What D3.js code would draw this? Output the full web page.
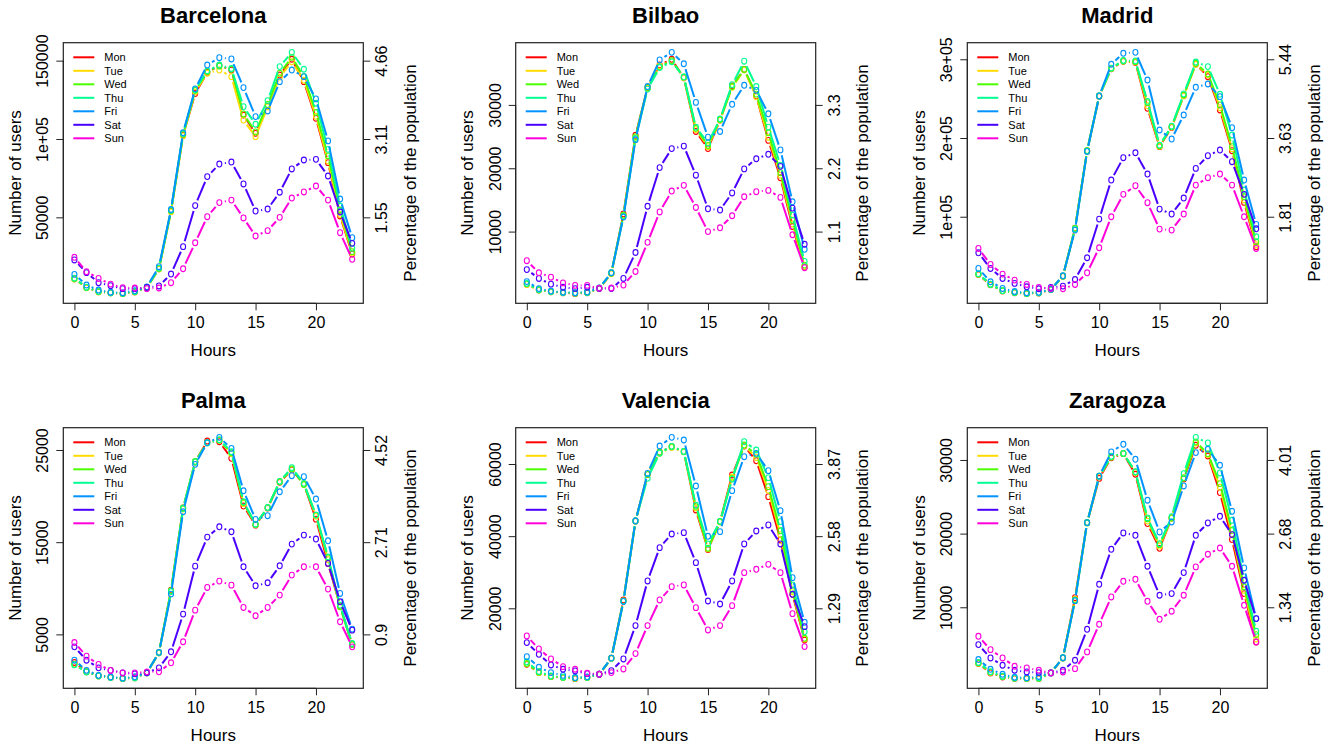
<!DOCTYPE html>
<html><head><meta charset="utf-8">
<script src="https://cdn.jsdelivr.net/npm/d3@7"></script>
<style>
html,body{margin:0;padding:0;background:#fff;}
text{font-family:"Liberation Sans",Arial,Helvetica,sans-serif;fill:#000;}
</style></head>
<body>
<svg id="chart" width="1336" height="747"></svg>
<script>
const days = ["Mon","Tue","Wed","Thu","Fri","Sat","Sun"];
const dayColors = ["#FF0000","#FFDB00","#49FF00","#00FF92","#0092FF","#4900FF","#FF00DB"];
const hours = [0,1,2,3,4,5,6,7,8,9,10,11,12,13,14,15,16,17,18,19,20,21,22,23];
const xTicks = [0,5,10,15,20];
const cities = ["Barcelona","Bilbao","Madrid","Palma","Valencia","Zaragoza"];

// Each city: Mon..Sun, 24 hourly values
const barcelona = [
 [10800,5200,2500,1800,1300,2400,5300,17200,54000,102500,129000,142500,147000,144000,115300,103600,121000,140800,150900,136600,113200,84900,50900,26600],
 [10600,5000,2400,1800,1400,2500,5200,17000,53500,102000,130000,142000,144000,139800,112100,101500,120500,139500,149300,137500,114500,86000,51800,27200],
 [11000,5300,2600,1900,1400,2500,5300,17400,54300,103000,131000,143000,146500,144500,116000,104500,122000,142000,152100,139800,116900,89200,54700,28100],
 [11200,5400,2600,1900,1500,2600,5400,17600,54500,103500,131500,143500,147200,145000,120600,109400,124500,146200,155300,144500,122800,93400,57200,30200],
 [13600,6800,3600,2200,1900,3200,5600,18500,55000,104000,132000,147200,151900,151100,132800,114300,117900,136600,144000,139800,125600,98800,61700,37000],
 [22800,14700,8300,6400,4500,4500,5300,6200,13800,31300,57500,76000,84000,85300,71300,54000,55300,66000,80900,86600,87000,76400,53400,33400],
 [24500,15300,11000,7400,5100,4900,4500,4900,8300,17200,33800,50400,59400,61000,49600,38100,41500,50000,62300,66200,70000,61000,40200,23200]
];
const bilbao = [
 [1700,770,500,350,200,350,1000,3400,12800,25200,32700,36300,37200,34300,25800,23100,27600,33000,35600,31400,24400,18500,10800,4400],
 [1650,760,480,350,250,380,1000,3350,12500,24900,32600,36200,36900,34300,26100,23400,27600,32800,35500,31300,24900,18900,11200,4500],
 [1750,800,520,380,300,400,1050,3450,12600,25000,32800,36000,37000,34400,26300,23600,27700,32900,35600,31700,25600,19300,11800,4700],
 [1800,820,530,380,300,400,1050,3500,12400,24700,32500,35900,36800,34400,26500,24000,27800,33200,36900,32900,26500,20500,12600,5300],
 [2100,1000,600,420,350,450,1100,3500,12300,24500,32900,37100,38300,36500,30400,24900,25800,30100,33100,32300,28600,22900,14700,7200],
 [4000,2600,1700,1200,1000,1200,1000,1000,2600,6700,14000,20100,23100,23500,18900,13600,13400,16100,19900,21500,22200,20300,13700,8000],
 [5400,3500,2800,1900,1500,1500,1050,1100,1550,3700,8300,13100,16400,17300,13800,10000,10600,12500,15500,16300,16500,15400,9500,4300]
];
const madrid = [
 [26500,13500,5800,3500,2300,3200,7400,24300,85500,183500,253000,288000,297500,296000,237700,189000,213500,254000,294000,277900,235600,183900,118200,61900],
 [26800,13800,5900,3700,2500,3400,7500,24500,85000,183800,253200,288200,297800,296500,241000,189500,214000,253500,293500,280000,238500,186500,121500,64500],
 [27100,14000,5900,3800,2500,3400,7600,24600,85200,183900,253400,288500,297900,297000,244900,190200,214400,254600,294900,281300,242000,189000,125400,68200],
 [27500,14300,6100,3900,2600,3500,7700,24800,84500,183500,253400,288800,298500,298000,246500,191000,215000,256000,296500,290700,255500,203800,133900,74600],
 [34300,17400,8900,5000,3500,4000,7800,25000,83000,183000,253400,293600,307600,308800,273700,210200,198700,229200,264400,268600,252500,213100,146600,90200],
 [54200,34300,21600,15300,11000,8500,10200,11900,20300,47900,97000,146600,175000,181300,154200,109700,103400,123700,161400,177500,184700,169900,128400,84700],
 [59700,39400,27100,19500,14000,10200,8900,8500,14000,28800,60600,100000,128400,139400,117800,84300,83000,103400,140200,149600,154200,140200,100000,59700]
];
const palma = [
 [1950,950,500,330,200,290,830,3000,9800,18700,23700,25970,25900,24090,18920,16850,18700,21500,22850,21300,17500,12700,8070,3900],
 [1750,940,500,330,230,300,830,3000,9700,18600,23700,25800,26050,24600,19200,16900,18750,21550,22900,21350,17800,13100,8000,3950],
 [1740,940,510,340,230,300,840,3050,9750,18700,23750,25800,26080,24700,19300,16930,18740,21560,22950,21250,17940,13310,7990,3910],
 [1700,930,500,330,220,290,830,3000,9650,18650,23700,25750,26100,24810,19390,16950,18760,21600,23080,21380,17940,13400,8170,4010],
 [2200,1100,560,380,260,400,850,3050,9370,18300,23440,25800,26370,25170,20580,17470,17870,20470,22210,22100,19680,15150,9440,5570],
 [3650,2200,1370,1090,830,720,830,1370,3110,7200,12400,15550,16670,16130,12330,10270,10600,12440,14790,15770,15340,12700,8540,5460],
 [4120,2640,1740,1090,830,830,940,940,1920,4200,7630,10090,10780,10340,7920,7020,7920,9260,11430,12330,12330,9910,6370,3650]
];
const valencia = [
 [4480,2170,1060,790,500,790,1710,6140,22300,44200,57100,63240,64800,63420,47250,36300,44020,56950,65000,60920,50950,38940,23880,11220],
 [4600,2200,1100,800,600,800,1710,6100,22000,44100,57200,63000,64600,63400,47800,36500,43900,56400,65100,61800,52700,40400,24600,11500],
 [4700,2300,1150,850,650,850,1720,6150,22030,44200,57130,63240,64800,63420,48200,36630,44020,56030,65260,62680,53720,41500,25080,11690],
 [5200,2500,1250,900,700,900,1750,6200,22000,44300,56030,63000,64900,63500,48600,37860,44100,55800,66190,63880,56220,44020,26470,13530],
 [6600,3650,2170,1400,800,1000,1750,6200,21900,44200,57400,64990,67390,66650,53900,39960,41250,52620,62030,62950,58160,47070,28500,16120],
 [10490,7250,4300,3100,2630,1890,1710,2730,5960,15200,27580,36820,40600,40970,32660,22030,21200,27580,37840,41430,43100,37840,23880,14920],
 [12330,8730,5960,3830,3100,1990,1710,2170,3190,7440,15200,22310,26000,26470,20180,14000,15200,20740,29880,30810,32190,29880,18520,9380]
];
const zaragoza = [
 [2350,1090,540,320,310,320,1090,3120,11300,21490,27500,30300,30860,28060,21360,18000,22130,27400,31990,30540,25570,19190,11860,5290],
 [2400,1150,580,350,340,350,1100,3150,11100,21500,27700,30400,30900,28300,21700,18300,22100,27600,32300,30700,26300,19900,12300,5700],
 [2450,1200,600,380,360,370,1100,3120,11000,21450,27780,30410,30860,28370,22000,18500,22130,27560,32450,30860,26790,20450,12760,6290],
 [2500,1250,650,400,380,400,1100,3150,10900,21500,27800,30500,30900,28400,22130,18640,22300,28150,33070,32310,28240,21810,13670,6740],
 [2900,1580,900,500,420,600,1100,3150,10900,21490,27800,31090,32130,30090,24530,20230,21580,26470,31000,31450,29280,23030,15340,8460],
 [4930,3120,2130,1450,1220,1130,1090,1450,2810,7010,13120,17870,20090,19770,15570,11630,11860,14710,19770,21450,22350,19870,13670,8460],
 [6060,4250,3120,1990,1760,1450,1090,1220,1670,3940,7690,11400,13530,13800,10810,8370,9460,11630,15480,17200,18050,15570,10270,5290]
];

const leftTickValues = [
 [50000,100000,150000],[10000,20000,30000],[100000,200000,300000],
 [5000,15000,25000],[20000,40000,60000],[10000,20000,30000]
];
const leftTickLabels = [
 ["50000","1e+05","150000"],["10000","20000","30000"],["1e+05","2e+05","3e+05"],
 ["5000","15000","25000"],["20000","40000","60000"],["10000","20000","30000"]
];
const rightTickLabels = [
 ["1.55","3.11","4.66"],["1.1","2.2","3.3"],["1.81","3.63","5.44"],
 ["0.9","2.71","4.52"],["1.29","2.58","3.87"],["1.34","2.68","4.01"]
];
const cityData = [barcelona, bilbao, madrid, palma, valencia, zaragoza];

const svg = d3.select("#chart");
const colLeft = [63.3, 515.7, 967.3];
const rowTop = [42.7, 427.7];
const W = 300, H = 260.6;
const GAP = 5.6;

cities.forEach((city, ci) => {
  const left = colLeft[ci % 3], top = rowTop[Math.floor(ci / 3)];
  const right = left + W, bottom = top + H;
  const data = cityData[ci];
  const g = svg.append("g");

  const x = d3.scaleLinear().domain([-0.92, 23.92]).range([left, right]);
  const all = data.flat();
  const [mn, mx] = d3.extent(all);
  const pad = (mx - mn) * 0.04;
  const y = d3.scaleLinear().domain([mn - pad, mx + pad]).range([bottom, top]);

  data.forEach((vals, di) => {
    const pts = vals.map((v, i) => [x(hours[i]), y(v)]);
    const sg = g.append("g");
    for (let i = 0; i < pts.length - 1; i++) {
      const [x1, y1] = pts[i], [x2, y2] = pts[i + 1];
      const dx = x2 - x1, dy = y2 - y1, L = Math.hypot(dx, dy);
      if (L <= 2 * GAP + 0.5) continue;
      const ux = dx / L, uy = dy / L;
      sg.append("line")
        .attr("x1", x1 + ux * GAP).attr("y1", y1 + uy * GAP)
        .attr("x2", x2 - ux * GAP).attr("y2", y2 - uy * GAP)
        .attr("stroke", dayColors[di]).attr("stroke-width", 2)
        .attr("stroke-linecap", "butt");
    }
    sg.selectAll("ellipse").data(pts).join("ellipse")
      .attr("cx", d => d[0]).attr("cy", d => d[1])
      .attr("rx", 2.5).attr("ry", 2.9)
      .attr("fill", "none").attr("stroke", dayColors[di]).attr("stroke-width", 1.1);
  });

  g.append("rect").attr("x", left).attr("y", top).attr("width", W).attr("height", H)
    .attr("fill", "none").attr("stroke", "#222").attr("stroke-width", 1.2);

  const xa = g.append("g").attr("transform", `translate(0,${bottom})`)
    .call(d3.axisBottom(x).tickValues(xTicks).tickSize(7).tickPadding(9).tickFormat(d3.format("d")));
  xa.select(".domain").attr("d", `M${x(0)},0H${x(20)}`).attr("stroke", "#222");
  xa.selectAll(".tick line").attr("stroke", "#222");
  xa.selectAll("text").attr("font-size", 16).attr("font-family", "Liberation Sans, Arial, sans-serif")
    .attr("dy", null).attr("y", 25).attr("fill", "#000");

  const lt = leftTickValues[ci];
  const ya = g.append("g").attr("transform", `translate(${left},0)`)
    .call(d3.axisLeft(y).tickValues(lt).tickSize(7).tickFormat((d, i) => leftTickLabels[ci][i]));
  ya.select(".domain").attr("d", `M0,${y(lt[0])}V${y(lt[lt.length - 1])}`).attr("stroke", "#222");
  ya.selectAll(".tick line").attr("stroke", "#222");
  ya.selectAll("text").attr("font-size", 16).attr("font-family", "Liberation Sans, Arial, sans-serif")
    .attr("fill", "#000").attr("x", null).attr("dy", null)
    .attr("text-anchor", "middle").attr("transform", "translate(-15,0) rotate(-90)");

  const ra = g.append("g").attr("transform", `translate(${right},0)`)
    .call(d3.axisRight(y).tickValues(lt).tickSize(7).tickFormat((d, i) => rightTickLabels[ci][i]));
  ra.select(".domain").attr("d", `M0,${y(lt[0])}V${y(lt[lt.length - 1])}`).attr("stroke", "#222");
  ra.selectAll(".tick line").attr("stroke", "#222");
  ra.selectAll("text").attr("font-size", 16).attr("font-family", "Liberation Sans, Arial, sans-serif")
    .attr("fill", "#000").attr("x", null).attr("dy", null)
    .attr("text-anchor", "middle").attr("transform", "translate(24,0) rotate(-90)");

  g.append("text").attr("x", (left + right) / 2).attr("y", top - 19.4)
    .attr("text-anchor", "middle").attr("font-size", 22).attr("font-weight", "bold").text(city);
  g.append("text").attr("x", (left + right) / 2).attr("y", bottom + 52.2)
    .attr("text-anchor", "middle").attr("font-size", 17).text("Hours");
  g.append("text").attr("transform", `translate(${left - 42.8},${(top + bottom) / 2}) rotate(-90)`)
    .attr("text-anchor", "middle").attr("font-size", 17).text("Number of users");
  g.append("text").attr("transform", `translate(${right + 52.4},${(top + bottom) / 2}) rotate(-90)`)
    .attr("text-anchor", "middle").attr("font-size", 17).text("Percentage of the population");

  const lg = g.append("g");
  days.forEach((d, i) => {
    const yy = top + 14.6 + i * 13.5;
    lg.append("line").attr("x1", left + 10).attr("x2", left + 31).attr("y1", yy).attr("y2", yy)
      .attr("stroke", dayColors[i]).attr("stroke-width", 2);
    lg.append("text").attr("x", left + 41).attr("y", yy).attr("dy", "0.35em")
      .attr("font-size", 11).text(d);
  });
});
</script>
</body></html>
